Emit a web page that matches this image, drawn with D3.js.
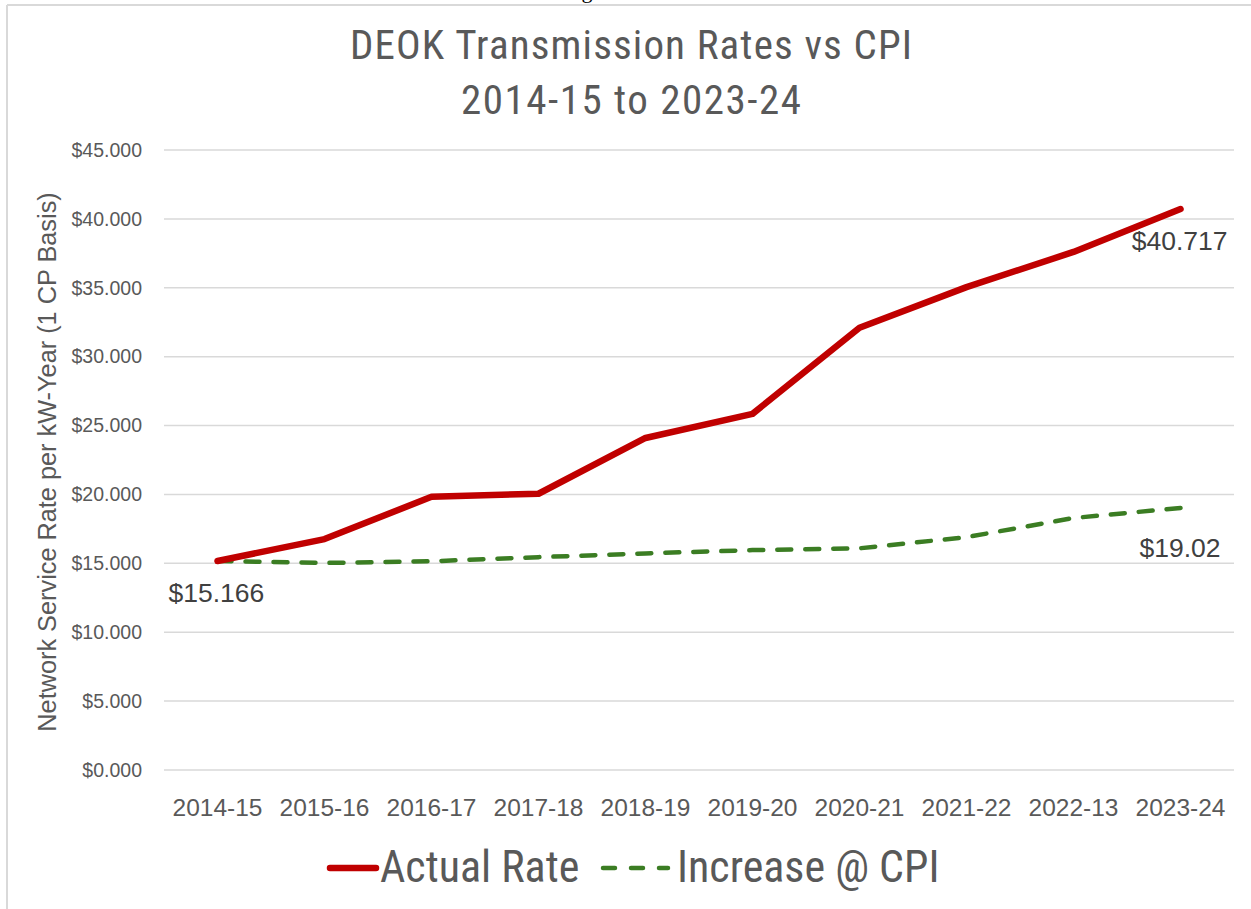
<!DOCTYPE html>
<html>
<head>
<meta charset="utf-8">
<script src="https://cdn.jsdelivr.net/npm/d3@7"></script>
<style>
  body { margin: 0; background: #fff; }
  svg { display: block; }
</style>
</head>
<body>
<div id="chart"></div>
<script>
// chart data
const years = ["2014-15", "2015-16", "2016-17", "2017-18", "2018-19",
               "2019-20", "2020-21", "2021-22", "2022-13", "2023-24"];
const actualRate = [15.166, 16.76, 19.83, 20.05, 24.1, 25.85, 32.1, 35.05, 37.6, 40.717];
const cpiRate = [15.166, 15.03, 15.15, 15.45, 15.72, 15.96, 16.09, 16.9, 18.29, 19.02];
const yTicks = [0, 5, 10, 15, 20, 25, 30, 35, 40, 45];

const width = 1251, height = 909;
const margin = {top: 150, right: 17, bottom: 139, left: 164};

const narrow = "'Liberation Sans Narrow', 'Arial Narrow', 'Roboto Condensed', sans-serif";
const sans = "'Liberation Sans', Arial, sans-serif";

const svg = d3.select("#chart").append("svg")
    .attr("width", width).attr("height", height);

// outer frame (only top and left visible)
svg.append("line").attr("x1", 7).attr("x2", width).attr("y1", 5).attr("y2", 5)
    .attr("stroke", "#d9d9d9").attr("stroke-width", 2);
svg.append("line").attr("x1", 7).attr("x2", 7).attr("y1", 5).attr("y2", height)
    .attr("stroke", "#d9d9d9").attr("stroke-width", 2);
// clipped descender from the page above
svg.append("text").attr("x", 587).attr("y", -2).attr("text-anchor", "middle")
    .style("font-family", "'Liberation Serif', serif").style("font-size", "22px")
    .attr("fill", "#000").text("g");

let x = d3.scaleBand().domain(years)
    .range([margin.left, width - margin.right]);
let y = d3.scaleLinear().domain([0, 45])
    .range([height - margin.bottom, margin.top]);

// gridlines
svg.append("g").selectAll("line").data(yTicks).join("line")
    .attr("x1", margin.left).attr("x2", width - margin.right)
    .attr("y1", d => y(d)).attr("y2", d => y(d))
    .attr("stroke", "#d9d9d9").attr("stroke-width", 1.5);

// y axis
const yAxis = svg.append("g")
    .attr("transform", `translate(${margin.left - 19},0)`)
    .call(d3.axisLeft(y).tickValues(yTicks).tickSize(0).tickFormat(d => "$" + d3.format(".3f")(d)));
yAxis.select(".domain").remove();
yAxis.selectAll("text").attr("fill", "#595959")
    .style("font-family", sans).style("font-size", "19.5px");

// x axis
const xAxis = svg.append("g")
    .attr("transform", `translate(0,${height - margin.bottom})`)
    .call(d3.axisBottom(x).tickSize(0).tickPadding(29));
xAxis.select(".domain").remove();
xAxis.selectAll("text").attr("fill", "#595959")
    .style("font-family", sans).style("font-size", "24.5px");

// lines
const line = d3.line().x((d, i) => x(years[i]) + x.bandwidth() / 2).y(d => y(d));

svg.append("path").datum(cpiRate)
    .attr("d", line).attr("fill", "none")
    .attr("stroke", "#3b7d23").attr("stroke-width", 4.5)
    .attr("stroke-dasharray", "14 14").attr("stroke-linecap", "round");

svg.append("path").datum(actualRate)
    .attr("d", line).attr("fill", "none")
    .attr("stroke", "#c00000").attr("stroke-width", 6.5)
    .attr("stroke-linejoin", "round").attr("stroke-linecap", "round");

// data labels
const lbl = (txt, xx, yy, anchor) => svg.append("text")
    .attr("x", xx).attr("y", yy).attr("text-anchor", anchor)
    .attr("fill", "#404040").style("font-family", sans).style("font-size", "26.5px")
    .text(txt);
const last = years.length - 1;
lbl("$" + d3.format(".3f")(actualRate[0]), x(years[0]) + x.bandwidth() / 2 - 49, y(actualRate[0]) + 41, "start");
lbl("$" + d3.format(".3f")(actualRate[last]), x(years[last]) + x.bandwidth() / 2 + 47, y(actualRate[last]) + 41, "end");
lbl("$" + d3.format(".2f")(cpiRate[last]), x(years[last]) + x.bandwidth() / 2 + 40, y(cpiRate[last]) + 49, "end");

// title
const title = svg.append("text").attr("text-anchor", "middle")
    .attr("fill", "#595959").style("font-family", narrow).style("font-size", "41px");
title.append("tspan").attr("x", 631).attr("y", 59)
    .attr("textLength", 562).attr("lengthAdjust", "spacing")
    .text("DEOK Transmission Rates vs CPI");
title.append("tspan").attr("x", 631).attr("y", 114)
    .attr("textLength", 340).attr("lengthAdjust", "spacing")
    .text("2014-15 to 2023-24");

// y axis title
svg.append("text")
    .attr("transform", "translate(56,462) rotate(-90)")
    .attr("text-anchor", "middle").attr("fill", "#595959")
    .style("font-family", sans).style("font-size", "25.3px")
    .text("Network Service Rate per kW-Year (1 CP Basis)");

// legend
const legendY = 868;
const legend = svg.append("g");
legend.append("line").attr("x1", 330).attr("x2", 376).attr("y1", legendY).attr("y2", legendY)
    .attr("stroke", "#c00000").attr("stroke-width", 6.5).attr("stroke-linecap", "round");
legend.append("text").attr("x", 380).attr("y", 882)
    .attr("fill", "#595959").style("font-family", narrow).style("font-size", "44px")
    .text("Actual Rate");
legend.append("line").attr("x1", 603).attr("x2", 668).attr("y1", legendY).attr("y2", legendY)
    .attr("stroke", "#3b7d23").attr("stroke-width", 4.5)
    .attr("stroke-dasharray", "12 16").attr("stroke-linecap", "round");
legend.append("text").attr("x", 677).attr("y", 882)
    .attr("fill", "#595959").style("font-family", narrow).style("font-size", "44px")
    .text("Increase @ CPI");
</script>
</body>
</html>
